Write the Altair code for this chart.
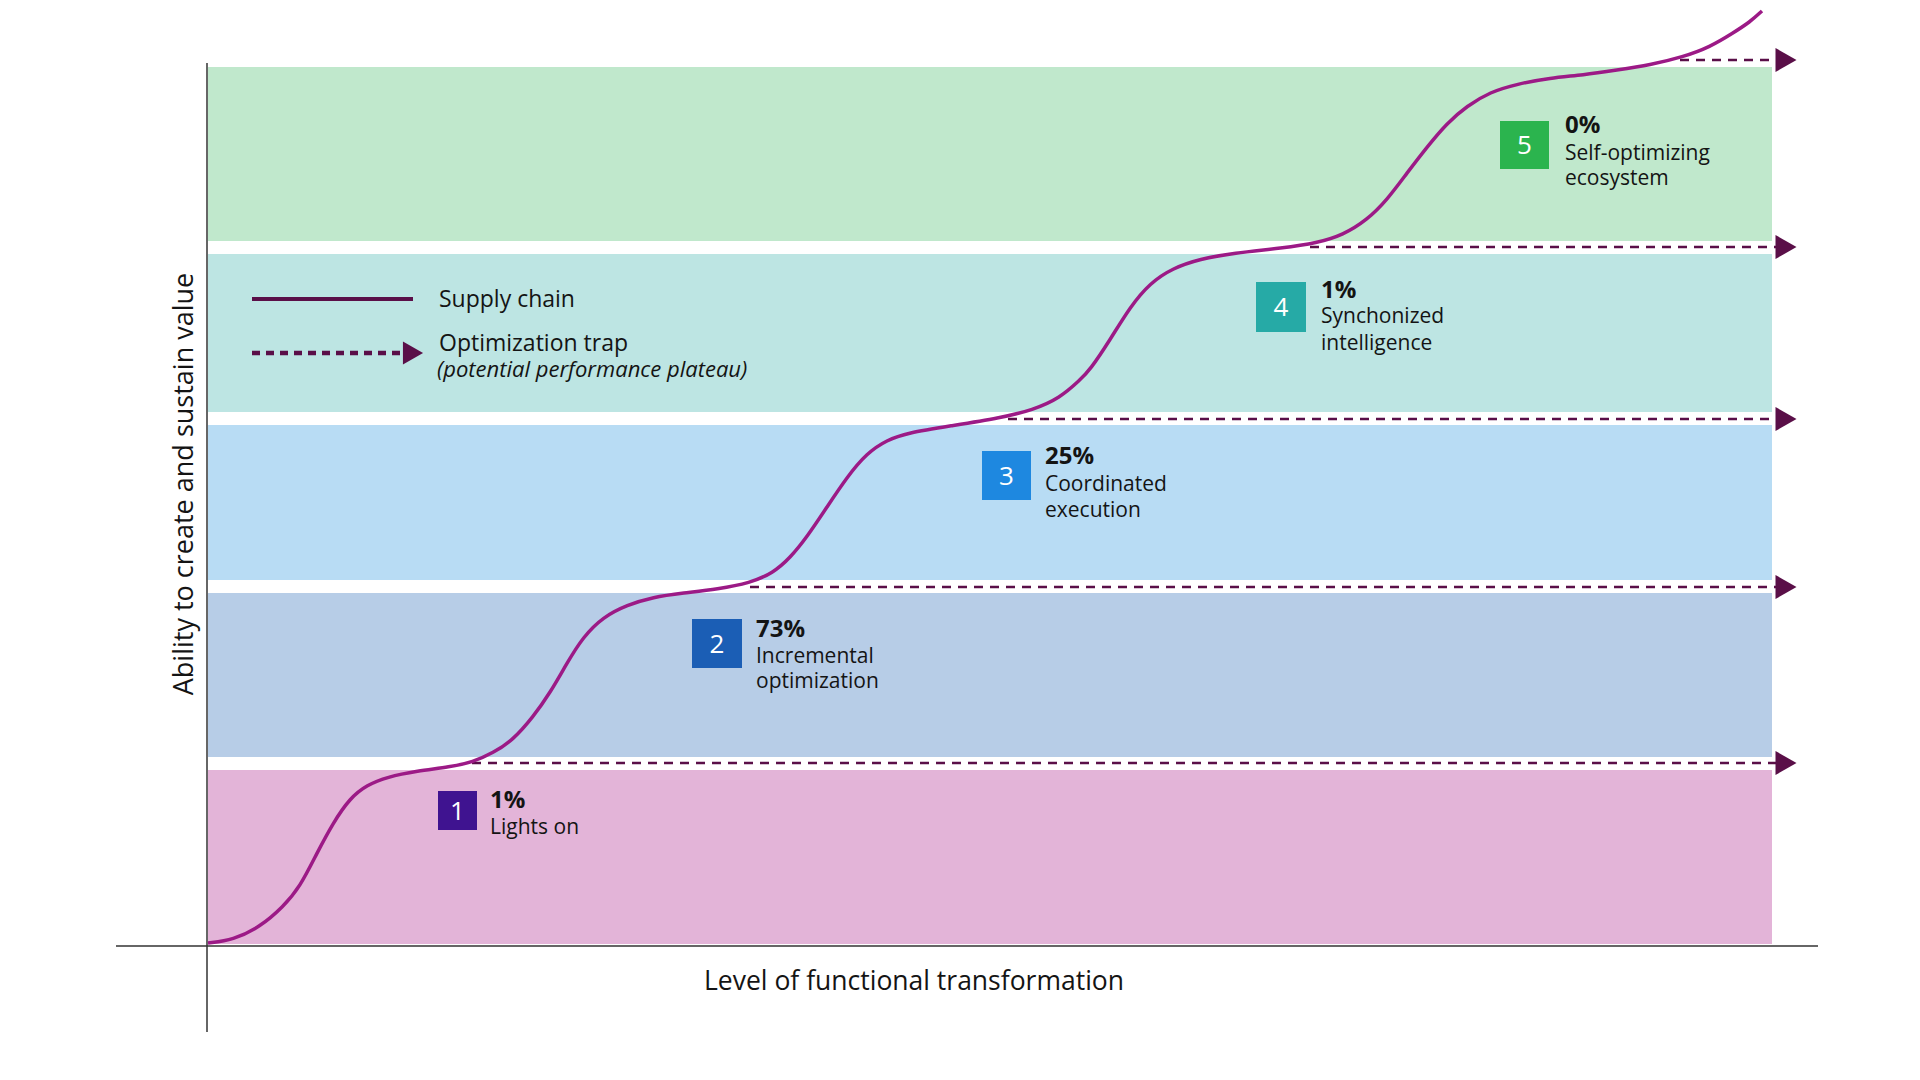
import altair as alt
import pandas as pd

# supply chain curve (level of transformation, ability)
CURVE_LEVEL = [0, 25, 52, 75, 92, 109, 125, 142, 159, 179, 209, 242, 265, 285, 305,
               325, 342, 359, 375, 395, 419, 445, 475, 510, 542, 565, 582, 599, 619,
               639, 659, 679, 699, 742, 792, 825, 852, 872, 882, 902, 922, 942, 965,
               992, 1025, 1075, 1109, 1135, 1159, 1179, 1199, 1219, 1239, 1259, 1282,
               1309, 1342, 1375, 1409, 1442, 1475, 1502, 1525, 1542, 1554]
CURVE_VALUE = [3, 6, 19, 39, 59, 93, 123, 148, 161, 169, 175, 179, 184, 193, 206,
               229, 253, 283, 309, 329, 341, 349, 353, 357, 363, 373, 388, 409, 439,
               469, 493, 506, 513, 520, 528, 536, 548, 566, 576, 606, 639, 663, 678,
               687, 693, 698, 703, 711, 726, 746, 773, 799, 823, 840, 854,
               862, 868, 871, 876, 881, 889, 899, 913, 924, 935]

# maturity stages
STAGE_NUM = ["1", "2", "3", "4", "5"]
STAGE_PCT = ["1%", "73%", "25%", "1%", "0%"]
STAGE_NAME = [
    ["Lights on"],
    ["Incremental", "optimization"],
    ["Coordinated", "execution"],
    ["Synchonized", "intelligence"],
    ["Self-optimizing", "ecosystem"],
]
BAND_LOW = [2, 189, 366, 534, 705]
BAND_HIGH = [176, 353, 521, 692, 879]
BAND_END = 1564

# optimization traps (plateaus)
TRAP_START = [264, 542, 800, 1102, 1472]
TRAP_LEVEL = [183, 359, 527, 699, 886]
TRAP_END = 1568

BAND_COLORS = ["#e3b4d8", "#b7cde7", "#b8dcf4", "#bde5e3", "#c0e8cc"]
BOX_COLORS = ["#3f1390", "#1b5eb5", "#1e88e0", "#26aaa6", "#2bb44e"]
CURVE_COLOR = "#9c1a86"
TRAP_COLOR = "#5a0f48"
TEXT_COLOR = "#141414"
FONT = "Open Sans"

# annotation layout (in chart units)
BOX_X = [(230, 269), (484, 534), (774, 823), (1048, 1098), (1292, 1341)]
BOX_Y = [(116, 155), (278, 327), (446, 495), (614, 664), (777, 825)]
LABEL_X = [282, 548, 837, 1113, 1357]
LABEL_BASE = [[138, 112], [309, 283, 258], [482, 455, 429], [648, 623, 596], [813, 786, 761]]

X_SCALE = alt.Scale(domain=[-200, 1700], nice=False, zero=False)
Y_SCALE = alt.Scale(domain=[-122, 938], nice=False, zero=False)
ARROW = "M-0.875,-1L0.875,0L-0.875,1Z"


def _x(field="x"):
    return alt.X(f"{field}:Q", scale=X_SCALE, axis=None)


def _y(field="y"):
    return alt.Y(f"{field}:Q", scale=Y_SCALE, axis=None)


bands = pd.DataFrame({
    "x": [0] * 5,
    "x2": [BAND_END] * 5,
    "y": BAND_LOW,
    "y2": BAND_HIGH,
    "fill": BAND_COLORS,
})
band_layer = alt.Chart(bands).mark_rect().encode(
    x=_x(), x2="x2:Q", y=_y(), y2="y2:Q",
    color=alt.Color("fill:N", scale=None),
)

axes = pd.DataFrame({"x": [-1, -92], "x2": [-1, 1610], "y": [-86, 0], "y2": [883, 0]})
axis_layer = alt.Chart(axes).mark_rule(color="#333333", strokeWidth=1.5).encode(
    x=_x(), x2="x2:Q", y=_y(), y2="y2:Q"
)

traps = pd.DataFrame({"x": TRAP_START, "x2": [TRAP_END] * 5, "y": TRAP_LEVEL})
trap_layer = alt.Chart(traps).mark_rule(
    color=TRAP_COLOR, strokeWidth=2.5, strokeDash=[9, 7]
).encode(x=_x(), x2="x2:Q", y=_y())

heads = pd.DataFrame({"x": [TRAP_END + 10] * 5, "y": TRAP_LEVEL})
head_layer = alt.Chart(heads).mark_point(
    shape=ARROW, filled=True, size=576, color=TRAP_COLOR, opacity=1
).encode(x=_x(), y=_y())

curve = pd.DataFrame({"x": CURVE_LEVEL, "y": CURVE_VALUE})
curve_layer = alt.Chart(curve).mark_line(
    color=CURVE_COLOR, strokeWidth=3.5, interpolate="basis"
).encode(x=_x(), y=_y())

# legend
leg_solid = alt.Chart(pd.DataFrame({"x": [44], "x2": [205], "y": [647]})).mark_rule(
    color=TRAP_COLOR, strokeWidth=4
).encode(x=_x(), x2="x2:Q", y=_y())
leg_dash = alt.Chart(pd.DataFrame({"x": [44], "x2": [196], "y": [593]})).mark_rule(
    color=TRAP_COLOR, strokeWidth=4.5, strokeDash=[8, 6]
).encode(x=_x(), x2="x2:Q", y=_y())
leg_head = alt.Chart(pd.DataFrame({"x": [205], "y": [593]})).mark_point(
    shape=ARROW, filled=True, size=529, color=TRAP_COLOR, opacity=1
).encode(x=_x(), y=_y())
leg_text = alt.Chart(pd.DataFrame({
    "x": [231, 231], "y": [639, 595], "t": ["Supply chain", "Optimization trap"]
})).mark_text(
    align="left", baseline="alphabetic", font=FONT, fontSize=23, color=TEXT_COLOR
).encode(x=_x(), y=_y(), text="t:N")
leg_note = alt.Chart(pd.DataFrame({
    "x": [229], "y": [569], "t": ["(potential performance plateau)"]
})).mark_text(
    align="left", baseline="alphabetic", font=FONT, fontSize=22, fontStyle="italic", color=TEXT_COLOR
).encode(x=_x(), y=_y(), text="t:N")

# stage boxes and labels
boxes = pd.DataFrame({
    "stage": STAGE_NUM,
    "fill": BOX_COLORS,
    "x": [b[0] for b in BOX_X], "x2": [b[1] for b in BOX_X],
    "y": [b[0] for b in BOX_Y], "y2": [b[1] for b in BOX_Y],
    "cx": [(b[0] + b[1]) / 2 for b in BOX_X],
    "cy": [(b[0] + b[1]) / 2 for b in BOX_Y],
})
box_layer = alt.Chart(boxes).mark_rect().encode(
    x=_x(), x2="x2:Q", y=_y(), y2="y2:Q",
    color=alt.Color("fill:N", scale=None),
)
num_layer = alt.Chart(boxes).mark_text(
    align="center", baseline="middle", font=FONT, fontSize=26, color="white", dy=1
).encode(x=_x("cx"), y=_y("cy"), text="stage:N")

pct = pd.DataFrame({"x": LABEL_X, "y": [b[0] for b in LABEL_BASE], "t": STAGE_PCT})
pct_layer = alt.Chart(pct).mark_text(
    align="left", baseline="alphabetic", font=FONT, fontSize=24, fontWeight="bold", color=TEXT_COLOR
).encode(x=_x(), y=_y(), text="t:N")

name_rows = []
for lx, bases, lines in zip(LABEL_X, LABEL_BASE, STAGE_NAME):
    for by, line in zip(bases[1:], lines):
        name_rows.append({"x": lx, "y": by, "t": line})
name_layer = alt.Chart(pd.DataFrame(name_rows)).mark_text(
    align="left", baseline="alphabetic", font=FONT, fontSize=21, color=TEXT_COLOR
).encode(x=_x(), y=_y(), text="t:N")

# axis titles
x_title = alt.Chart(pd.DataFrame({"x": [706], "y": [-44], "t": ["Level of functional transformation"]})).mark_text(
    align="center", baseline="alphabetic", font=FONT, fontSize=26.5, color=TEXT_COLOR
).encode(x=_x(), y=_y(), text="t:N")
y_title = alt.Chart(pd.DataFrame({"x": [-15], "y": [462], "t": ["Ability to create and sustain value"]})).mark_text(
    align="center", baseline="alphabetic", angle=270, font=FONT, fontSize=27, color=TEXT_COLOR
).encode(x=_x(), y=_y(), text="t:N")

chart = alt.layer(
    band_layer, axis_layer, trap_layer, head_layer, curve_layer,
    leg_solid, leg_dash, leg_head, leg_text, leg_note,
    box_layer, num_layer, pct_layer, name_layer, x_title, y_title,
).properties(
    width=1900, height=1060, padding=0, background="white",
    autosize=alt.AutoSizeParams(type="none"),
).configure_view(stroke=None)

chart.save("out.html", embed_options={"renderer": "svg", "actions": False})
